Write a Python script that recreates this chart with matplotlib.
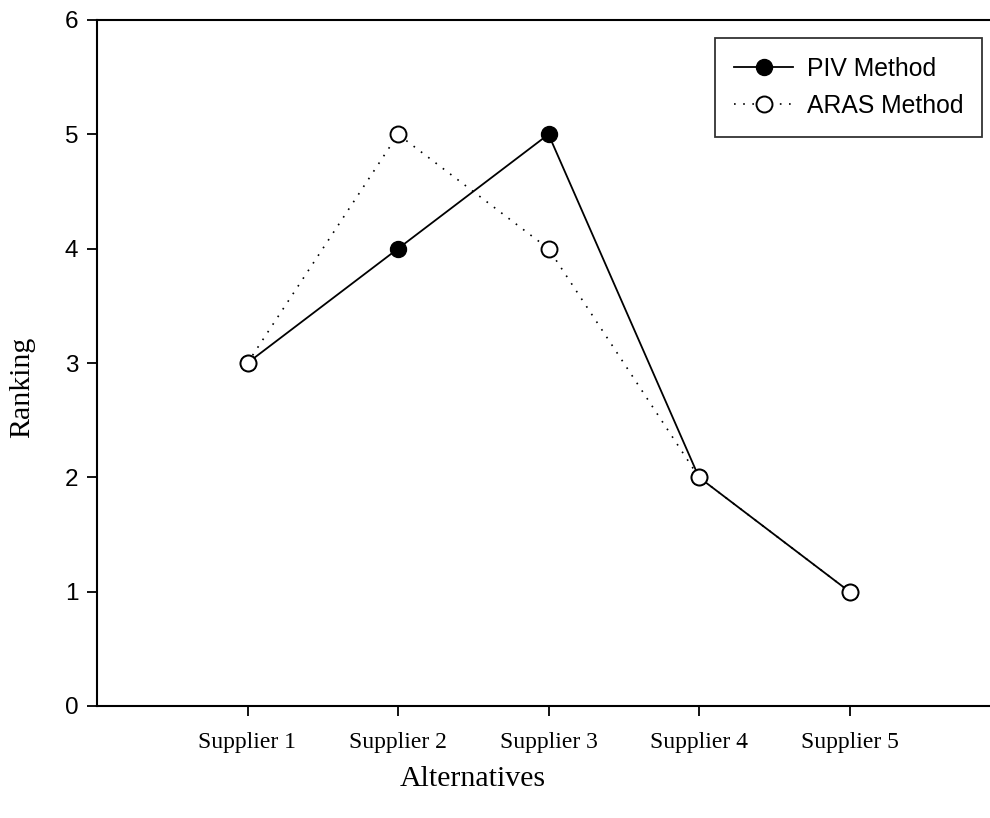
import matplotlib
matplotlib.use('Agg')
import matplotlib.pyplot as plt

suppliers = ['Supplier 1', 'Supplier 2', 'Supplier 3', 'Supplier 4', 'Supplier 5']
piv_rank = [3, 4, 5, 2, 1]
aras_rank = [3, 5, 4, 2, 1]
y_ticks = [0, 1, 2, 3, 4, 5, 6]

fig = plt.figure(figsize=(9.9, 8.18), dpi=100)
# the plot area runs past the right edge of the picture, like the original
ax = fig.add_axes([97 / 990, 1 - 706 / 818, 903 / 990, 686 / 818])

x_pos = list(range(1, len(suppliers) + 1))

ax.plot(x_pos, piv_rank, color='black', lw=1.3, marker='o', markersize=11.5,
        markerfacecolor='black', markeredgecolor='black', label='PIV Method', zorder=3)
ax.plot(x_pos, aras_rank, color='black', lw=1.2, linestyle=(0, (1, 4.5)), marker='o',
        markersize=11.5, markerfacecolor='white', markeredgecolor='black',
        markeredgewidth=1.4, label='ARAS Method', zorder=4)

ax.set_xlim(0, 6)
ax.set_ylim(0, 6)
ax.set_xticks(x_pos)
ax.set_xticklabels(suppliers, fontfamily='Liberation Serif', fontsize=17)
ax.set_yticks(y_ticks)
ax.set_yticklabels([str(v) for v in y_ticks], fontfamily='Liberation Sans', fontsize=17.5)

ax.tick_params(axis='both', direction='out', length=7.5, width=1.3, color='black')
ax.tick_params(axis='y', pad=6)
ax.tick_params(axis='x', pad=11)

for side in ['left', 'bottom', 'top']:
    ax.spines[side].set_linewidth(1.5)
ax.spines['right'].set_visible(False)

fig.text(22 / 990, 1 - 387 / 818, 'Ranking', rotation=90, ha='center', va='center',
         fontfamily='Liberation Serif', fontsize=21.5)
fig.text(473 / 990, 1 - 779 / 818, 'Alternatives', ha='center', va='center',
         fontfamily='Liberation Serif', fontsize=21.5)

leg = ax.legend(loc='upper right', bbox_to_anchor=(982 / 990, 1 - 38 / 818),
                bbox_transform=fig.transFigure, prop={'family': 'Liberation Sans', 'size': 17.8},
                frameon=True, fancybox=False, shadow=False, handlelength=2.4,
                handletextpad=0.55, borderpad=0.75, labelspacing=0.55, borderaxespad=0)
leg.get_frame().set_edgecolor('black')
leg.get_frame().set_linewidth(1.3)

fig.savefig('out.png', dpi=100)
